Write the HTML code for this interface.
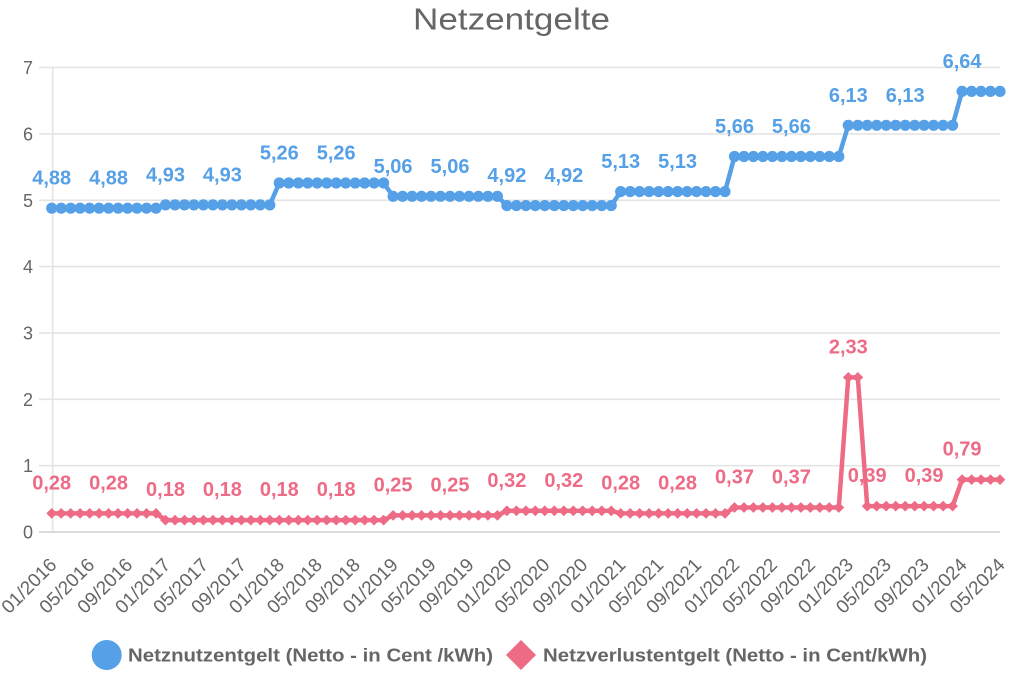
<!DOCTYPE html>
<html>
<head>
<meta charset="utf-8">
<style>
html,body{margin:0;padding:0;background:#fff;}
svg{display:block;}
text{font-family:"Liberation Sans",Arial,sans-serif;}
</style>
</head>
<body>
<svg width="1024" height="683" viewBox="0 0 1024 683" xmlns="http://www.w3.org/2000/svg">
<defs>
<marker id="mc" markerUnits="userSpaceOnUse" markerWidth="14" markerHeight="14" refX="7" refY="7" overflow="visible">
<circle cx="7" cy="7" r="5.6" fill="#55a0e6"/>
</marker>
<marker id="md" markerUnits="userSpaceOnUse" markerWidth="14" markerHeight="14" refX="7" refY="7" overflow="visible">
<polygon points="7,1.6 12.4,7 7,12.4 1.6,7" fill="#ee6b86"/>
</marker>
</defs>

<!-- title -->
<text x="511.5" y="29.5" font-size="31" fill="#666" text-anchor="middle" textLength="197" lengthAdjust="spacingAndGlyphs">Netzentgelte</text>

<!-- grid -->
<g stroke="#e4e4e4" stroke-width="1.6">
<line x1="39" y1="67.5" x2="1000" y2="67.5"/>
<line x1="39" y1="133.9" x2="1000" y2="133.9"/>
<line x1="39" y1="200.3" x2="1000" y2="200.3"/>
<line x1="39" y1="266.6" x2="1000" y2="266.6"/>
<line x1="39" y1="333" x2="1000" y2="333"/>
<line x1="39" y1="399.3" x2="1000" y2="399.3"/>
<line x1="39" y1="465.7" x2="1000" y2="465.7"/>
<line x1="52.7" y1="67.5" x2="52.7" y2="532"/>
</g>
<line x1="39" y1="532" x2="1000" y2="532" stroke="#d6d6d6" stroke-width="1.8"/>

<!-- y labels -->
<g font-size="18" fill="#666" text-anchor="end">
<text x="33" y="74">7</text>
<text x="33" y="140.4">6</text>
<text x="33" y="206.8">5</text>
<text x="33" y="273.1">4</text>
<text x="33" y="339.5">3</text>
<text x="33" y="405.8">2</text>
<text x="33" y="472.2">1</text>
<text x="33" y="538.5">0</text>
</g>

<!-- x labels -->
<g font-size="19" fill="#666" text-anchor="end">
<text transform="translate(57.7,566) rotate(-45)">01/2016</text>
<text transform="translate(95.6,566) rotate(-45)">05/2016</text>
<text transform="translate(133.6,566) rotate(-45)">09/2016</text>
<text transform="translate(171.5,566) rotate(-45)">01/2017</text>
<text transform="translate(209.4,566) rotate(-45)">05/2017</text>
<text transform="translate(247.4,566) rotate(-45)">09/2017</text>
<text transform="translate(285.3,566) rotate(-45)">01/2018</text>
<text transform="translate(323.2,566) rotate(-45)">05/2018</text>
<text transform="translate(361.2,566) rotate(-45)">09/2018</text>
<text transform="translate(399.1,566) rotate(-45)">01/2019</text>
<text transform="translate(437,566) rotate(-45)">05/2019</text>
<text transform="translate(475,566) rotate(-45)">09/2019</text>
<text transform="translate(512.9,566) rotate(-45)">01/2020</text>
<text transform="translate(550.8,566) rotate(-45)">05/2020</text>
<text transform="translate(588.7,566) rotate(-45)">09/2020</text>
<text transform="translate(626.7,566) rotate(-45)">01/2021</text>
<text transform="translate(664.6,566) rotate(-45)">05/2021</text>
<text transform="translate(702.5,566) rotate(-45)">09/2021</text>
<text transform="translate(740.5,566) rotate(-45)">01/2022</text>
<text transform="translate(778.4,566) rotate(-45)">05/2022</text>
<text transform="translate(816.3,566) rotate(-45)">09/2022</text>
<text transform="translate(854.3,566) rotate(-45)">01/2023</text>
<text transform="translate(892.2,566) rotate(-45)">05/2023</text>
<text transform="translate(930.1,566) rotate(-45)">09/2023</text>
<text transform="translate(968.1,566) rotate(-45)">01/2024</text>
<text transform="translate(1006,566) rotate(-45)">05/2024</text>
</g>

<!-- data labels blue -->
<g font-size="20" font-weight="bold" fill="#55a0e6" text-anchor="middle">
<text x="51.7" y="184.7">4,88</text>
<text x="108.6" y="184.7">4,88</text>
<text x="165.5" y="181.4">4,93</text>
<text x="222.4" y="181.4">4,93</text>
<text x="279.3" y="159.5">5,26</text>
<text x="336.2" y="159.5">5,26</text>
<text x="393.1" y="172.8">5,06</text>
<text x="450" y="172.8">5,06</text>
<text x="506.9" y="182.1">4,92</text>
<text x="563.8" y="182.1">4,92</text>
<text x="620.7" y="168.1">5,13</text>
<text x="677.6" y="168.1">5,13</text>
<text x="734.5" y="133">5,66</text>
<text x="791.4" y="133">5,66</text>
<text x="848.3" y="101.8">6,13</text>
<text x="905.2" y="101.8">6,13</text>
<text x="962.1" y="67.9">6,64</text>
</g>

<!-- data labels pink -->
<g font-size="20" font-weight="bold" fill="#ee6b86" text-anchor="middle">
<text x="51.7" y="489.4">0,28</text>
<text x="108.6" y="489.4">0,28</text>
<text x="165.5" y="496.1">0,18</text>
<text x="222.4" y="496.1">0,18</text>
<text x="279.3" y="496.1">0,18</text>
<text x="336.2" y="496.1">0,18</text>
<text x="393.1" y="491.4">0,25</text>
<text x="450" y="491.4">0,25</text>
<text x="506.9" y="486.8">0,32</text>
<text x="563.8" y="486.8">0,32</text>
<text x="620.7" y="489.4">0,28</text>
<text x="677.6" y="489.4">0,28</text>
<text x="734.5" y="483.5">0,37</text>
<text x="791.4" y="483.5">0,37</text>
<text x="848.3" y="353.4">2,33</text>
<text x="867.2" y="482.1">0,39</text>
<text x="924.1" y="482.1">0,39</text>
<text x="962.1" y="455.6">0,79</text>
</g>

<!-- blue series -->
<polyline fill="none" stroke="#55a0e6" stroke-width="4.5" stroke-linejoin="round"
marker-start="url(#mc)" marker-mid="url(#mc)" marker-end="url(#mc)"
points="51.7,208.2 61.2,208.2 70.7,208.2 80.1,208.2 89.6,208.2 99.1,208.2 108.6,208.2 118.1,208.2 127.6,208.2 137,208.2 146.5,208.2 156,208.2
165.5,204.9 175,204.9 184.5,204.9 193.9,204.9 203.4,204.9 212.9,204.9 222.4,204.9 231.9,204.9 241.4,204.9 250.8,204.9 260.3,204.9 269.8,204.9
279.3,183 288.8,183 298.3,183 307.7,183 317.2,183 326.7,183 336.2,183 345.7,183 355.2,183 364.6,183 374.1,183 383.6,183
393.1,196.3 402.6,196.3 412.1,196.3 421.5,196.3 431,196.3 440.5,196.3 450,196.3 459.5,196.3 469,196.3 478.4,196.3 487.9,196.3 497.4,196.3
506.9,205.6 516.4,205.6 525.9,205.6 535.3,205.6 544.8,205.6 554.3,205.6 563.8,205.6 573.3,205.6 582.7,205.6 592.2,205.6 601.7,205.6 611.2,205.6
620.7,191.6 630.2,191.6 639.6,191.6 649.1,191.6 658.6,191.6 668.1,191.6 677.6,191.6 687.1,191.6 696.5,191.6 706,191.6 715.5,191.6 725,191.6
734.5,156.5 744,156.5 753.4,156.5 762.9,156.5 772.4,156.5 781.9,156.5 791.4,156.5 800.9,156.5 810.3,156.5 819.8,156.5 829.3,156.5 838.8,156.5
848.3,125.3 857.8,125.3 867.2,125.3 876.7,125.3 886.2,125.3 895.7,125.3 905.2,125.3 914.7,125.3 924.1,125.3 933.6,125.3 943.1,125.3 952.6,125.3
962.1,91.4 971.6,91.4 981,91.4 990.5,91.4 1000,91.4"/>

<!-- pink series -->
<polyline fill="none" stroke="#ee6b86" stroke-width="4.5" stroke-linejoin="round"
marker-start="url(#md)" marker-mid="url(#md)" marker-end="url(#md)"
points="51.7,513.4 61.2,513.4 70.7,513.4 80.1,513.4 89.6,513.4 99.1,513.4 108.6,513.4 118.1,513.4 127.6,513.4 137,513.4 146.5,513.4 156,513.4
165.5,520.1 175,520.1 184.5,520.1 193.9,520.1 203.4,520.1 212.9,520.1 222.4,520.1 231.9,520.1 241.4,520.1 250.8,520.1 260.3,520.1 269.8,520.1
279.3,520.1 288.8,520.1 298.3,520.1 307.7,520.1 317.2,520.1 326.7,520.1 336.2,520.1 345.7,520.1 355.2,520.1 364.6,520.1 374.1,520.1 383.6,520.1
393.1,515.4 402.6,515.4 412.1,515.4 421.5,515.4 431,515.4 440.5,515.4 450,515.4 459.5,515.4 469,515.4 478.4,515.4 487.9,515.4 497.4,515.4
506.9,510.8 516.4,510.8 525.9,510.8 535.3,510.8 544.8,510.8 554.3,510.8 563.8,510.8 573.3,510.8 582.7,510.8 592.2,510.8 601.7,510.8 611.2,510.8
620.7,513.4 630.2,513.4 639.6,513.4 649.1,513.4 658.6,513.4 668.1,513.4 677.6,513.4 687.1,513.4 696.5,513.4 706,513.4 715.5,513.4 725,513.4
734.5,507.5 744,507.5 753.4,507.5 762.9,507.5 772.4,507.5 781.9,507.5 791.4,507.5 800.9,507.5 810.3,507.5 819.8,507.5 829.3,507.5 838.8,507.5
848.3,377.4 857.8,377.4 867.2,506.1 876.7,506.1 886.2,506.1 895.7,506.1 905.2,506.1 914.7,506.1 924.1,506.1 933.6,506.1 943.1,506.1 952.6,506.1
962.1,479.6 971.6,479.6 981,479.6 990.5,479.6 1000,479.6"/>

<!-- legend -->
<circle cx="106.7" cy="655" r="15" fill="#55a0e6"/>
<text x="128" y="661.5" font-size="18.5" font-weight="bold" fill="#666" textLength="365" lengthAdjust="spacingAndGlyphs">Netznutzentgelt (Netto - in Cent /kWh)</text>
<polygon points="521,640 536,655 521,670 506,655" fill="#ee6b86"/>
<text x="543" y="661.5" font-size="18.5" font-weight="bold" fill="#666" textLength="384" lengthAdjust="spacingAndGlyphs">Netzverlustentgelt (Netto - in Cent/kWh)</text>
</svg>
</body>
</html>
